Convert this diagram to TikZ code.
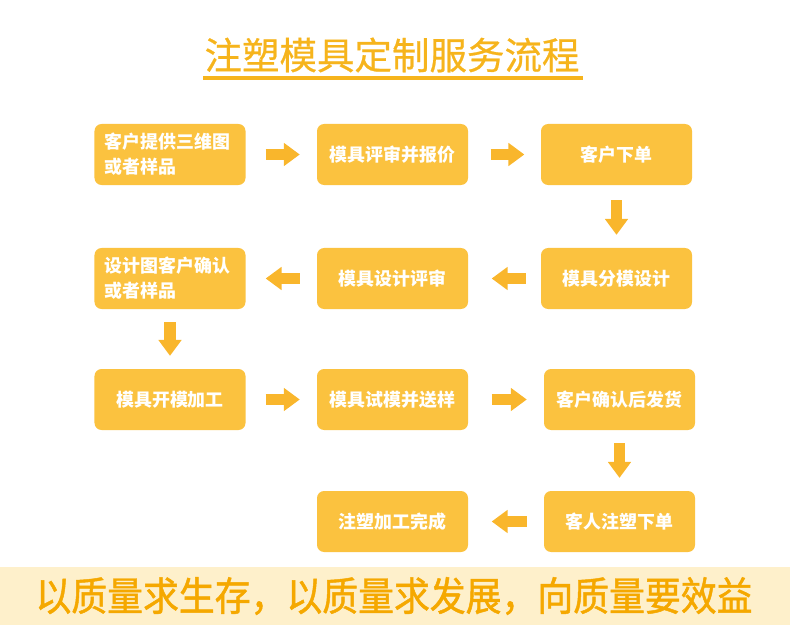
\documentclass[tikz,border=0pt]{standalone}
\usepackage{fontspec}
\setmainfont{Noto Sans CJK SC}
\newfontfamily\slogan{Noto Sans CJK SC}[FakeStretch=0.9, FakeBold=1.2]
\newfontfamily\headline{Noto Sans CJK SC}[FakeBold=0.6]
\usepackage{xcolor}
\usetikzlibrary{arrows.meta}

\definecolor{boxc}{HTML}{FBC23F}
\definecolor{arrowc}{HTML}{F9B62C}
\definecolor{titlec}{HTML}{F6B41C}
\definecolor{bandc}{HTML}{FEF0CB}
\definecolor{sloganc}{HTML}{F5A800}

\begin{document}
\begin{tikzpicture}[x=0.03cm, y=-0.03cm,
    box/.style={fill=boxc, rounded corners=6pt, minimum width=4.53cm, minimum height=1.83cm,
      inner sep=0pt, text=white, align=center, font=\bfseries\fontsize{15.3}{21.3}\selectfont},
    twoline/.style={box, text width=3.93cm, align=left},
    flow/.style={draw=arrowc, line width=9.4pt, -{Triangle[width=19pt, length=13.6pt]}}]
  \useasboundingbox (0,0) rectangle (790,625);

  % title
  \node[text=titlec, font=\headline\fontsize{32}{36}\selectfont] (title) at (392,55) {注塑模具定制服务流程};
  \draw[titlec, line width=2.6pt] (203,78) -- (583,78);

  % steps
  \node[twoline] (s1) at (170,154.5) {客户提供三维图\\或者样品};
  \node[box] (s2) at (392.5,154.5) {模具评审并报价};
  \node[box] (s3) at (616.5,154.5) {客户下单};
  \node[box] (s4) at (616.5,278.5) {模具分模设计};
  \node[box] (s5) at (392.5,278.5) {模具设计评审};
  \node[twoline] (s6) at (170,278.5) {设计图客户确认\\或者样品};
  \node[box] (s7) at (170,399.5) {模具开模加工};
  \node[box] (s8) at (392.5,399.5) {模具试模并送样};
  \node[box] (s9) at (619.5,399.5) {客户确认后发货};
  \node[box] (s10) at (619.5,521.5) {客人注塑下单};
  \node[box] (s11) at (392.5,521.5) {注塑加工完成};

  % arrows
  \foreach \a/\b/\s/\e in {s1/s2/17pt/14.5pt, s2/s3/19pt/14pt, s3/s4/12.7pt/11pt,
      s4/s5/12.7pt/20pt, s5/s6/14.5pt/17pt, s6/s7/11pt/11pt, s7/s8/17pt/14.5pt,
      s8/s9/20pt/14.5pt, s9/s10/11pt/11pt, s10/s11/14.5pt/20pt}
    \draw[flow, shorten <=\s, shorten >=\e] (\a) -- (\b);

  % slogan band
  \fill[bandc] (0,567) rectangle (790,625);
  \node[text=sloganc, font=\slogan\fontsize{34}{38}\selectfont] (motto) at (394,596)
    {以质量求生存，以质量求发展，向质量要效益};
\end{tikzpicture}
\end{document}
